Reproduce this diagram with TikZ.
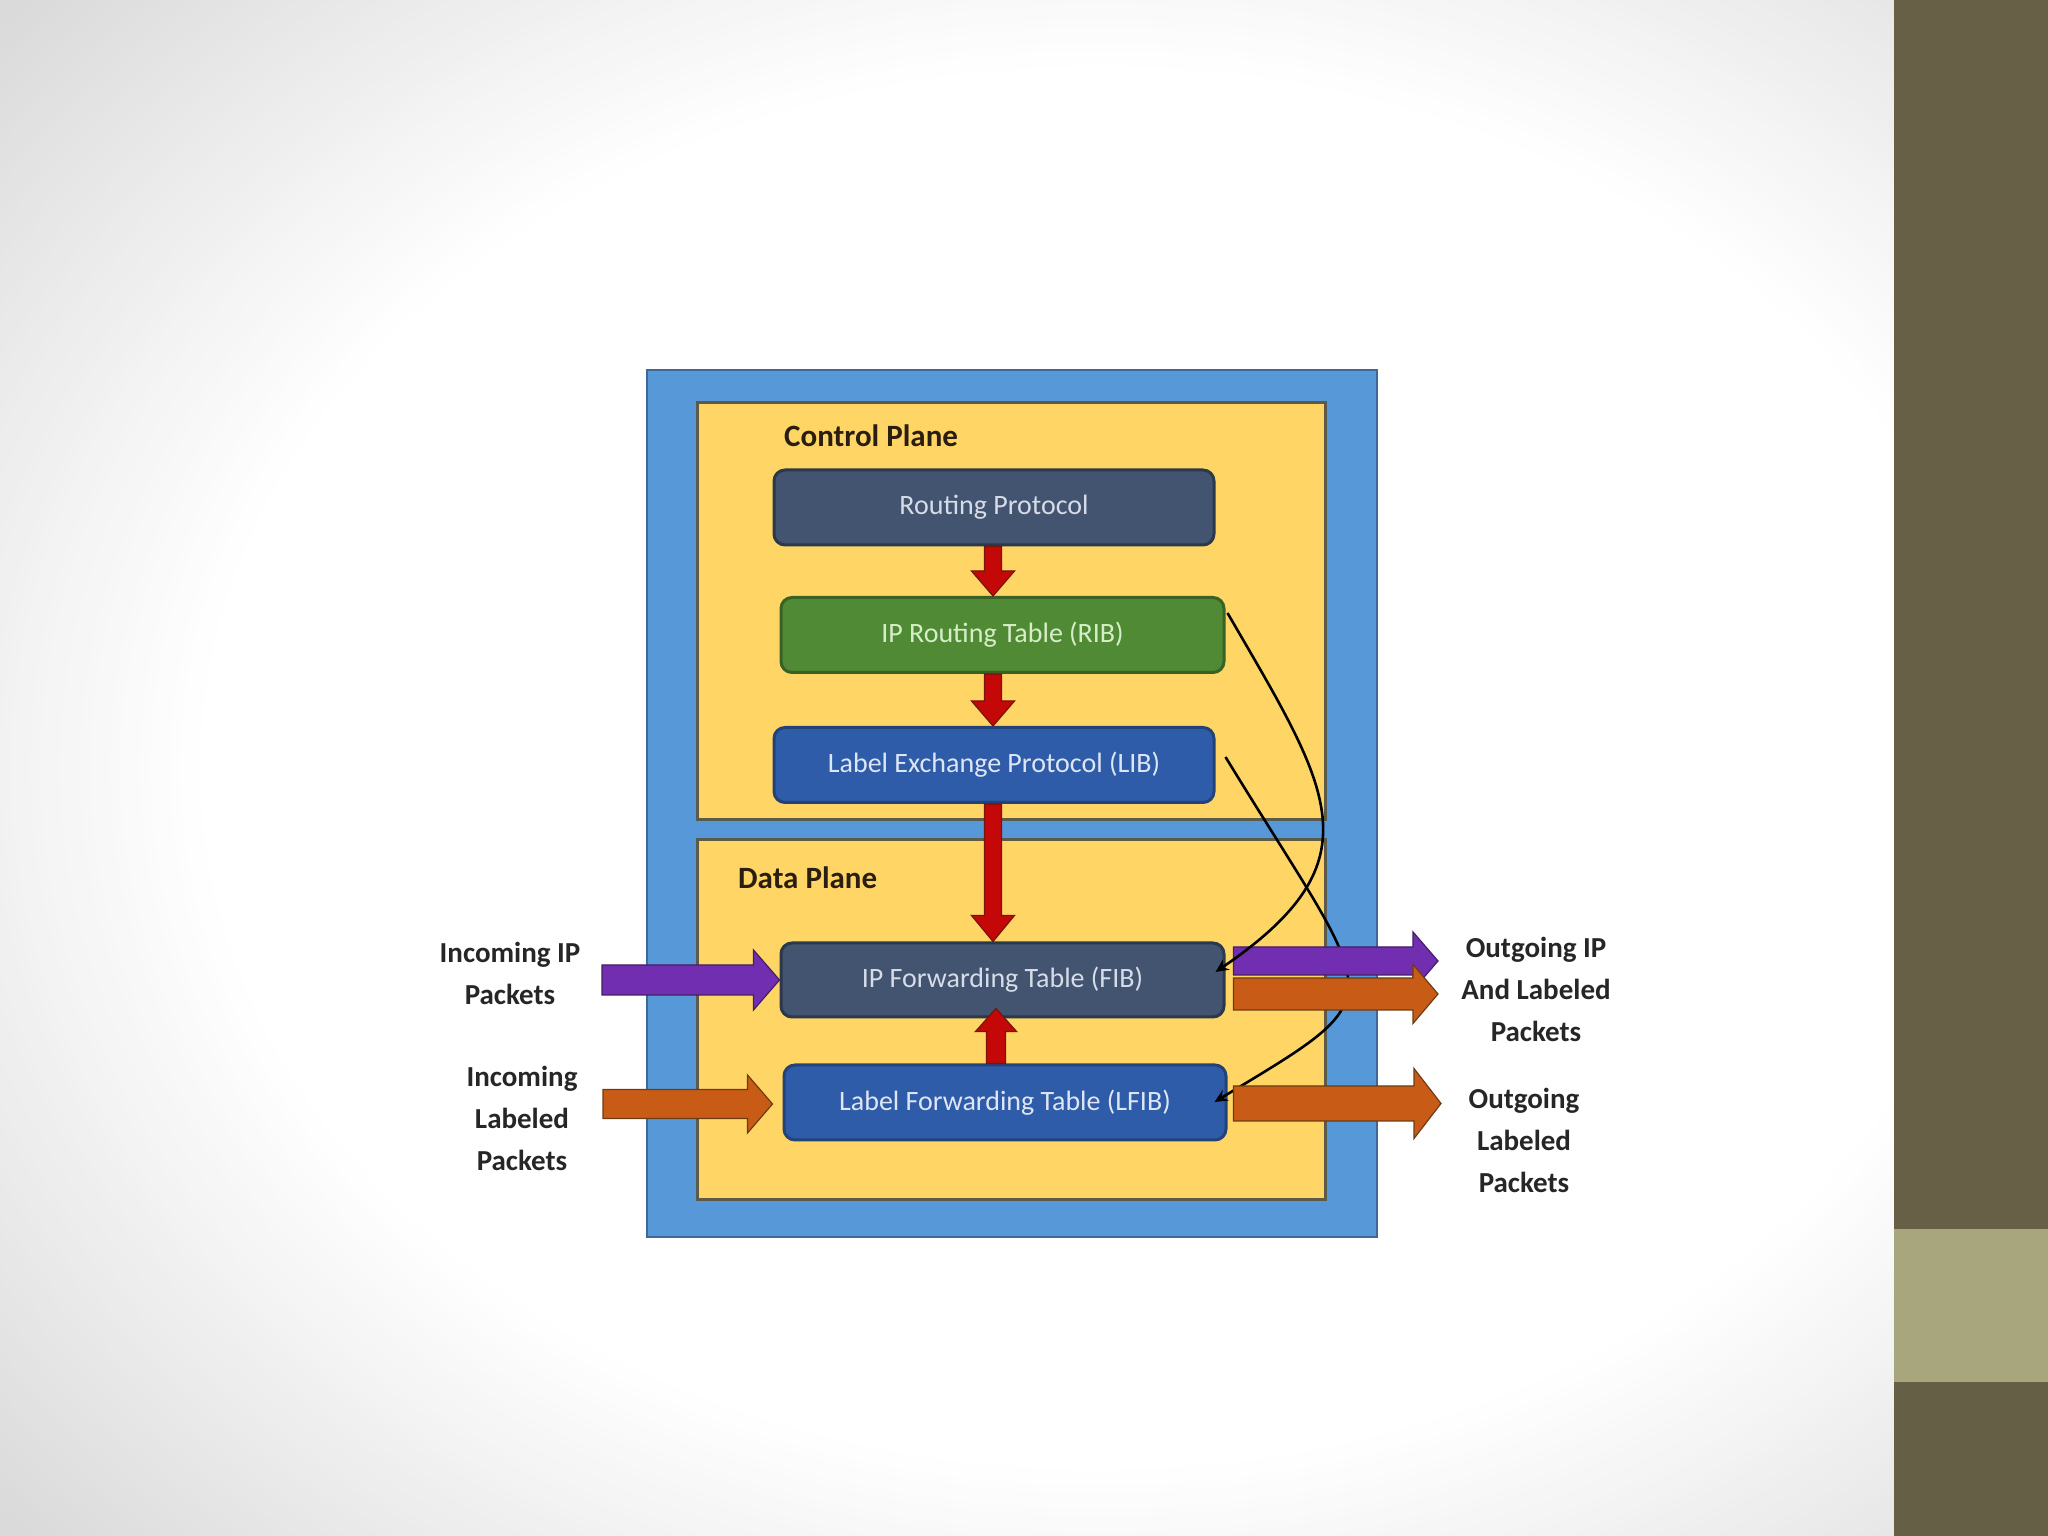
\documentclass[tikz,border=0pt]{standalone}
\usepackage{fontspec}
\setmainfont{Carlito}
\usetikzlibrary{calc,arrows.meta}
\definecolor{vgbase}{gray}{0.85}
\definecolor{sidec}{RGB}{104,95,71}
\definecolor{sideband}{RGB}{168,166,124}
\definecolor{sidebot}{RGB}{100,95,69}
\definecolor{outerblue}{RGB}{86,152,216}
\definecolor{outerblueD}{RGB}{62,105,150}
\definecolor{yel}{RGB}{255,214,102}
\definecolor{yelD}{RGB}{92,90,72}
\definecolor{slate}{RGB}{66,84,112}
\definecolor{slateD}{RGB}{44,56,76}
\definecolor{slateT}{RGB}{214,220,232}
\definecolor{grn}{RGB}{80,138,52}
\definecolor{grnD}{RGB}{56,98,36}
\definecolor{grnT}{RGB}{214,238,200}
\definecolor{blu}{RGB}{46,92,168}
\definecolor{bluD}{RGB}{34,66,120}
\definecolor{bluT}{RGB}{222,230,246}
\definecolor{labelbrown}{RGB}{42,30,18}
\definecolor{redA}{RGB}{196,8,8}
\definecolor{redD}{RGB}{120,20,10}
\definecolor{purA}{RGB}{114,46,176}
\definecolor{purD}{RGB}{70,30,100}
\definecolor{oraA}{RGB}{200,92,22}
\definecolor{oraD}{RGB}{110,60,20}
% #1 style, #2 start, #3 end, #4 shaft half width, #5 head half width, #6 head length
\newcommand\hblock[6]{\path[#1] let \p1=(#2), \p2=(#3) in
  (\x1,{\y1+#4}) -- ({\x2-(#6)},{\y1+#4}) -- ({\x2-(#6)},{\y1+#5}) -- (\x2,\y1)
  -- ({\x2-(#6)},{\y1-#5}) -- ({\x2-(#6)},{\y1-#4}) -- (\x1,{\y1-#4}) -- cycle;}
\newcommand\vblock[6]{\path[#1] let \p1=(#2), \p2=(#3) in
  ({\x1-#4},\y1) -- ({\x1-#4},{\y2+(#6)}) -- ({\x1-#5},{\y2+(#6)}) -- (\x1,\y2)
  -- ({\x1+#5},{\y2+(#6)}) -- ({\x1+#4},{\y2+(#6)}) -- ({\x1+#4},\y1) -- cycle;}
\begin{document}
\begin{tikzpicture}[x=1pt,y=1pt,
  tbox/.style={rectangle, rounded corners=11pt, line width=3pt, minimum width=441pt, minimum height=75pt, inner sep=0pt, font=\fontsize{28}{34}\selectfont},
  plabel/.style={font=\bfseries\fontsize{31}{37}\selectfont, text=labelbrown, inner sep=0pt},
  olabel/.style={font=\bfseries\fontsize{29}{42}\selectfont, text=black!85, align=center, inner sep=0pt},
  redarr/.style={fill=redA, draw=redD, line width=1.2pt, line join=miter},
  purarr/.style={fill=purA, draw=purD, line width=1.2pt, line join=miter},
  oraarr/.style={fill=oraA, draw=oraD, line width=1.2pt, line join=miter},
  link/.style={draw=black, line width=2.6pt, -{Stealth[length=13pt,width=12pt]}}
]
\useasboundingbox (0,0) rectangle (2048,1536);
% background vignette
\begin{scope}
  \clip (0,0) rectangle (1894,1536);
  \fill[vgbase] (0,0) rectangle (1894,1536);
  \foreach \i in {0,...,58} {
    \pgfmathsetmacro\rx{1500-10*\i}
    \pgfmathsetmacro\g{max(0.85,1-0.15*(\rx-900)/580)}
    \definecolor{vgtmp}{gray}{\g}
    \fill[vgtmp] (1100,768) ellipse ({\rx} and {0.78*\rx});
  }
  \fill[white] (1100,768) ellipse (900 and 702);
\end{scope}
% sidebar
\fill[sidec] (1894,307) rectangle (2048,1536);
\fill[sideband] (1894,154) rectangle (2048,307);
\fill[sidebot] (1894,0) rectangle (2048,154);
% containers
\draw[fill=outerblue, draw=outerblueD, line width=1.5pt] (647,299) rectangle (1377,1166);
\draw[fill=yel, draw=yelD, line width=3pt] (697,716) rectangle (1325,1133);
\draw[fill=yel, draw=yelD, line width=3pt] (697,336) rectangle (1325,696);
\node[plabel, anchor=west] (cpl) at (784,1100) {Control Plane};
\node[plabel, anchor=west] (dpl) at (738,658) {Data Plane};
% table nodes
\node[tbox, fill=slate, draw=slateD, text=slateT, minimum width=440pt] (RP) at (994,1028.5) {Routing Protocol};
\node[tbox, fill=grn, draw=grnD, text=grnT, minimum width=443pt] (RIB) at (1002.5,901) {IP Routing Table (RIB)};
\node[tbox, fill=blu, draw=bluD, text=bluT, minimum width=440pt] (LIB) at (994,771) {Label Exchange Protocol (LIB)};
\node[tbox, fill=slate, draw=slateD, text=slateT, minimum width=443pt, minimum height=74pt] (FIB) at (1002.5,556) {IP Forwarding Table (FIB)};
\node[tbox, fill=blu, draw=bluD, text=bluT, minimum width=442pt] (LFIB) at (1005,433.5) {Label Forwarding Table (LFIB)};
% red arrows
\vblock{redarr}{$(RP.south)+(-1,0)$}{$(RP.south |- RIB.north)+(-1,0)$}{8.5}{21.5}{25}
\vblock{redarr}{$(LIB.north |- RIB.south)+(-1,0)$}{$(LIB.north)+(-1,0)$}{8.5}{21.5}{25}
\vblock{redarr}{$(LIB.south)+(-1,0)$}{$(LIB.south |- FIB.north)+(-1,0)$}{8.5}{21.5}{26}
\vblock{redarr}{$(LFIB.north)+(-9,0)$}{$(LFIB.north |- FIB.south)+(-9,10)$}{9.5}{20.5}{-23}
% link behind outgoing arrows
\draw[link] ($(LIB.east)+(10,8)$) .. controls (1380,526) and (1400,546) .. ($(LFIB.east)+(-13,0.5)$);
% incoming
\coordinate (inIP) at (602,556);
\coordinate (inLab) at (603,432);
\hblock{purarr}{inIP}{FIB.west}{15}{30}{26}
\hblock{oraarr}{inLab}{$(LFIB.west)+(-10,0)$}{14.5}{29}{25}
% outgoing
\coordinate (outIP) at (1438,575);
\coordinate (outLab1) at (1438,542);
\coordinate (outLab2) at (1441,432);
\hblock{purarr}{$(FIB.east)+(8,19)$}{outIP}{14}{29}{25}
\hblock{oraarr}{$(FIB.east)+(8,-14)$}{outLab1}{16}{29.5}{25}
\hblock{oraarr}{$(LFIB.east)+(6,-1)$}{outLab2}{17.5}{35}{27}
% link over arrows
\draw[link] ($(RIB.east)+(2,22)$) .. controls (1330,746) and (1380,676) .. ($(FIB.east)+(-10,8)$);
% side labels
\node[olabel] (inIPt) at (510,563) {Incoming IP\\Packets};
\node[olabel] (inLabt) at (522,418) {Incoming\\Labeled\\Packets};
\node[olabel] (outIPt) at (1536,547) {Outgoing IP\\And Labeled\\Packets};
\node[olabel] (outLabt) at (1524,396) {Outgoing\\Labeled\\Packets};
\end{tikzpicture}
\end{document}
